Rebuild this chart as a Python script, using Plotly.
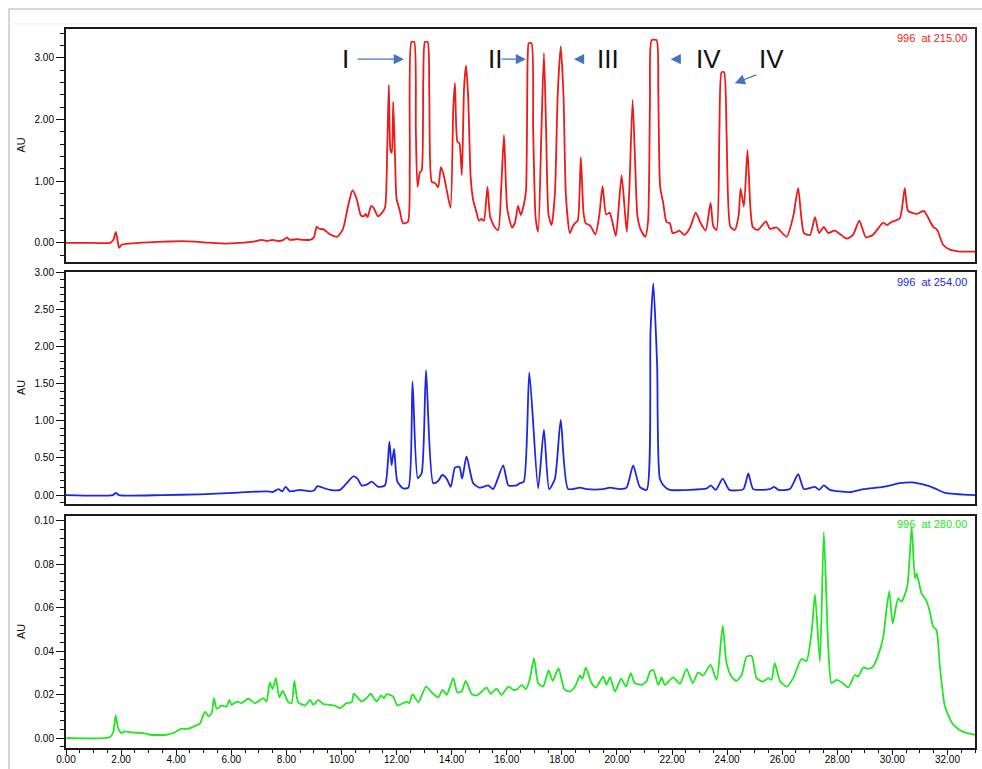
import plotly.graph_objects as go

# ---- Chromatogram data: retention time (min) and absorbance (AU) ----
# Channel 215 nm
rt_215 = [0.00, 1.00, 1.60, 1.72, 1.81, 1.87, 1.93, 2.02, 2.30, 3.00, 3.60, 4.20, 4.70, 5.30, 5.80,
          6.30, 6.80, 7.10, 7.30, 7.50, 7.70, 7.90, 8.02, 8.12, 8.40, 8.60, 8.85, 9.00, 9.10, 9.20,
          9.35, 9.58, 9.84, 10.05, 10.25, 10.40, 10.55, 10.70, 10.80, 10.88, 10.95, 11.08, 11.18,
          11.32, 11.45, 11.58, 11.66, 11.72, 11.78, 11.83, 11.88, 11.95, 12.00, 12.12, 12.23, 12.41,
          12.48, 12.54, 12.64, 12.70, 12.76, 12.85, 12.91, 12.97, 13.03, 13.13, 13.19, 13.28, 13.40,
          13.51, 13.61, 13.70, 13.82, 13.96, 14.06, 14.12, 14.21, 14.28, 14.37, 14.45, 14.52, 14.60,
          14.69, 14.78, 14.90, 14.99, 15.08, 15.17, 15.30, 15.40, 15.57, 15.69, 15.80, 15.90, 16.02,
          16.19, 16.30, 16.41, 16.51, 16.62, 16.70, 16.76, 16.80, 16.90, 16.96, 17.05, 17.14, 17.26,
          17.35, 17.43, 17.52, 17.63, 17.75, 17.85, 17.96, 18.06, 18.15, 18.29, 18.40, 18.50, 18.58,
          18.69, 18.79, 18.87, 19.03, 19.22, 19.36, 19.48, 19.61, 19.73, 19.82, 19.96, 20.06, 20.17,
          20.30, 20.36, 20.45, 20.57, 20.67, 20.75, 20.88, 21.03, 21.13, 21.20, 21.26, 21.44, 21.50,
          21.57, 21.68, 21.80, 21.92, 22.02, 22.14, 22.27, 22.45, 22.66, 22.86, 23.03, 23.22, 23.40,
          23.50, 23.62, 23.72, 23.80, 23.89, 23.98, 24.12, 24.28, 24.42, 24.49, 24.61, 24.74, 24.84,
          24.93, 25.12, 25.41, 25.55, 25.80, 26.16, 26.40, 26.58, 26.79, 27.01, 27.19, 27.34, 27.51,
          27.67, 27.91, 28.34, 28.57, 28.80, 29.04, 29.29, 29.67, 29.80, 29.97, 30.27, 30.45, 30.57,
          30.88, 31.14, 31.48, 31.63, 31.84, 32.09, 32.45, 33.00]
au_215 = [0.00, 0.00, 0.00, 0.05, 0.18, 0.04, -0.08, -0.03, -0.01, 0.01, 0.02, 0.03, 0.02, 0.00, -0.01,
          0.00, 0.02, 0.05, 0.03, 0.05, 0.03, 0.05, 0.09, 0.05, 0.06, 0.05, 0.05, 0.09, 0.26, 0.23,
          0.22, 0.14, 0.10, 0.22, 0.62, 0.85, 0.72, 0.45, 0.43, 0.47, 0.42, 0.60, 0.56,
          0.43, 0.48, 0.57, 1.50, 2.56, 1.50, 1.46, 2.29, 1.30, 0.72, 0.52, 0.32, 0.34,
          1.30, 3.26, 3.26, 1.83, 0.91, 1.15, 1.17, 2.64, 3.26, 3.26, 2.37, 0.99, 0.97,
          0.90, 1.23, 1.12, 0.86, 0.57, 2.20, 2.59, 1.64, 1.62, 1.10, 2.50, 2.88, 2.37,
          1.07, 0.70, 0.50, 0.36, 0.39, 0.36, 0.91, 0.42, 0.25, 0.21, 0.90, 1.75, 0.55,
          0.25, 0.33, 0.60, 0.45, 0.62, 0.85, 3.00, 3.24, 3.24, 1.83, 0.40, 0.18, 1.83,
          3.08, 1.83, 0.45, 0.29, 0.81, 2.40, 3.19, 2.40, 0.75, 0.16, 0.27, 0.33, 0.36,
          1.39, 0.48, 0.32, 0.28, 0.14, 0.45, 0.92, 0.46, 0.49, 0.37, 0.11, 0.55, 1.10,
          0.45, 0.18, 0.85, 2.32, 1.20, 0.42, 0.20, 0.10, 0.35, 2.30, 3.29, 3.29, 2.50,
          0.91, 0.65, 0.34, 0.32, 0.16, 0.17, 0.20, 0.13, 0.25, 0.49, 0.33, 0.20, 0.65,
          0.27, 0.21, 1.80, 2.77, 2.77, 1.80, 0.26, 0.21, 0.45, 0.88, 0.59, 1.51, 0.62,
          0.26, 0.21, 0.35, 0.23, 0.25, 0.10, 0.43, 0.89, 0.16, 0.13, 0.42, 0.16, 0.26,
          0.16, 0.20, 0.07, 0.13, 0.36, 0.09, 0.13, 0.33, 0.29, 0.34, 0.40, 0.89, 0.52,
          0.47, 0.52, 0.26, 0.21, -0.03, -0.11, -0.14, -0.14]

# Channel 254 nm
rt_254 = [0.00, 1.70, 1.81, 1.92, 3.50, 4.86, 6.06, 7.29, 7.50, 7.71, 7.85, 7.97, 8.13, 8.49, 8.86,
          9.00, 9.13, 9.40, 9.58, 9.95, 10.19, 10.43, 10.58, 10.73, 10.91, 11.10, 11.34, 11.58, 11.74,
          11.82, 11.91, 12.03, 12.24, 12.43, 12.58, 12.77, 12.91, 13.07, 13.33, 13.51, 13.66, 13.82,
          13.97, 14.12, 14.28, 14.38, 14.54, 14.78, 15.00, 15.15, 15.33, 15.51, 15.87, 16.06, 16.36,
          16.48, 16.62, 16.82, 17.14, 17.35, 17.54, 17.75, 17.96, 18.23, 18.66, 18.90, 19.50, 19.75,
          20.11, 20.35, 20.59, 20.83, 21.08, 21.22, 21.32, 21.46, 21.56, 21.74, 21.92, 22.65, 23.26,
          23.41, 23.59, 23.84, 24.08, 24.59, 24.77, 24.95, 25.55, 25.71, 25.86, 26.28, 26.58, 26.79,
          27.19, 27.34, 27.51, 27.73, 28.46, 28.94, 29.67, 30.27, 30.70, 31.24, 31.54, 31.91, 33.00]
au_254 = [0.00, 0.00, 0.03, 0.00, 0.00, 0.01, 0.03, 0.05, 0.04, 0.08, 0.05, 0.11, 0.05, 0.07, 0.05,
          0.06, 0.12, 0.09, 0.07, 0.07, 0.16, 0.25, 0.22, 0.13, 0.14, 0.18, 0.11, 0.13, 0.72,
          0.40, 0.62, 0.18, 0.09, 0.10, 1.53, 0.23, 0.29, 1.68, 0.16, 0.19, 0.27, 0.22,
          0.11, 0.37, 0.38, 0.22, 0.52, 0.16, 0.10, 0.11, 0.13, 0.08, 0.40, 0.13, 0.13,
          0.16, 0.18, 1.65, 0.09, 0.88, 0.08, 0.22, 1.01, 0.08, 0.10, 0.08, 0.08, 0.10,
          0.08, 0.10, 0.40, 0.11, 0.07, 2.20, 2.85, 1.75, 0.22, 0.11, 0.07, 0.07, 0.09,
          0.13, 0.07, 0.22, 0.07, 0.08, 0.29, 0.08, 0.08, 0.11, 0.07, 0.08, 0.28, 0.08,
          0.11, 0.07, 0.13, 0.07, 0.04, 0.08, 0.11, 0.16, 0.17, 0.13, 0.09, 0.03, 0.00]

# Channel 280 nm
rt_280 = [0.02, 1.60, 1.72, 1.80, 1.90, 2.02, 2.14, 2.44, 2.81, 3.05, 3.65, 3.89, 4.20, 4.38, 4.74,
          4.86, 5.05, 5.17, 5.29, 5.37, 5.47, 5.65, 5.83, 5.93, 6.01, 6.20, 6.38, 6.62, 6.86, 7.16,
          7.28, 7.40, 7.50, 7.62, 7.74, 7.87, 8.07, 8.19, 8.29, 8.43, 8.68, 8.86, 8.98, 9.16, 9.34,
          9.58, 9.76, 9.95, 10.19, 10.37, 10.45, 10.73, 10.91, 11.06, 11.28, 11.43, 11.54, 11.64,
          11.88, 12.03, 12.37, 12.46, 12.58, 12.79, 13.07, 13.27, 13.51, 13.67, 13.82, 14.06, 14.20,
          14.36, 14.51, 14.73, 14.91, 15.09, 15.27, 15.42, 15.63, 15.81, 16.06, 16.24, 16.38, 16.54,
          16.70, 16.84, 16.99, 17.14, 17.32, 17.52, 17.67, 17.88, 18.09, 18.29, 18.48, 18.66, 18.75,
          18.87, 19.08, 19.24, 19.50, 19.62, 19.75, 19.93, 20.15, 20.33, 20.50, 20.65, 20.90, 21.08,
          21.20, 21.32, 21.50, 21.62, 21.74, 22.04, 22.29, 22.53, 22.75, 22.95, 23.13, 23.40, 23.62,
          23.84, 23.98, 24.16, 24.34, 24.53, 24.71, 24.89, 25.07, 25.31, 25.49, 25.61, 25.73, 25.92,
          26.16, 26.40, 26.70, 26.88, 27.07, 27.19, 27.37, 27.51, 27.67, 27.79, 27.97, 28.16, 28.40,
          28.64, 28.76, 28.94, 29.12, 29.30, 29.55, 29.67, 29.79, 29.89, 30.01, 30.21, 30.33, 30.54,
          30.70, 30.82, 30.88, 31.06, 31.22, 31.36, 31.48, 31.60, 31.72, 31.91, 32.21, 32.57, 33.00]
au_280 = [0.0000, 0.0005, 0.0030, 0.0104, 0.0043, 0.0023, 0.0031, 0.0025, 0.0023, 0.0015, 0.0015,
          0.0023, 0.0043, 0.0041, 0.0058, 0.0066, 0.0122, 0.0100, 0.0115, 0.0184, 0.0135, 0.0149,
          0.0145, 0.0176, 0.0153, 0.0168, 0.0161, 0.0181, 0.0161, 0.0184, 0.0168, 0.0256, 0.0225,
          0.0276, 0.0187, 0.0217, 0.0165, 0.0161, 0.0263, 0.0165, 0.0150, 0.0176, 0.0153, 0.0176,
          0.0156, 0.0153, 0.0149, 0.0138, 0.0161, 0.0164, 0.0204, 0.0168, 0.0184, 0.0204, 0.0168,
          0.0196, 0.0184, 0.0202, 0.0191, 0.0150, 0.0168, 0.0161, 0.0202, 0.0165, 0.0237, 0.0211,
          0.0187, 0.0222, 0.0199, 0.0276, 0.0211, 0.0214, 0.0263, 0.0202, 0.0196, 0.0214, 0.0233,
          0.0204, 0.0227, 0.0199, 0.0237, 0.0222, 0.0225, 0.0245, 0.0225, 0.0273, 0.0368, 0.0253,
          0.0237, 0.0311, 0.0263, 0.0322, 0.0225, 0.0214, 0.0237, 0.0288, 0.0273, 0.0325, 0.0253,
          0.0233, 0.0283, 0.0245, 0.0280, 0.0214, 0.0273, 0.0237, 0.0299, 0.0253, 0.0245, 0.0263,
          0.0306, 0.0314, 0.0245, 0.0279, 0.0245, 0.0279, 0.0250, 0.0319, 0.0253, 0.0302, 0.0288,
          0.0337, 0.0268, 0.0518, 0.0345, 0.0283, 0.0263, 0.0291, 0.0375, 0.0378, 0.0276, 0.0260,
          0.0276, 0.0268, 0.0345, 0.0263, 0.0237, 0.0276, 0.0364, 0.0355, 0.0490, 0.0662, 0.0352,
          0.0949, 0.0429, 0.0253, 0.0268, 0.0257, 0.0233, 0.0291, 0.0283, 0.0325, 0.0319, 0.0329,
          0.0406, 0.0467, 0.0597, 0.0677, 0.0528, 0.0643, 0.0628, 0.0697, 0.0972, 0.0735, 0.0758,
          0.0666, 0.0636, 0.0582, 0.0513, 0.0498, 0.0337, 0.0145, 0.0061, 0.0028, 0.0015]

channel_labels = ["996\u00a0 at\u00a0215.00", "996\u00a0 at\u00a0254.00", "996\u00a0 at\u00a0280.00"]
peak_labels = ["I", "II", "III", "IV", "IV"]
peak_label_rt = [10.16, 15.57, 19.67, 23.34, 25.63]

RED, BLUE, GREEN = "#ee1a1a", "#1e26e6", "#22e622"
ARROW = "#4472c4"
FONT = "Arial, Liberation Sans, sans-serif"

fig = go.Figure()
fig.add_trace(go.Scatter(x=rt_215, y=au_215, mode="lines", xaxis="x", yaxis="y",
                         line=dict(color=RED, width=1.8, shape="spline", smoothing=0.6)))
fig.add_trace(go.Scatter(x=rt_254, y=au_254, mode="lines", xaxis="x2", yaxis="y2",
                         line=dict(color=BLUE, width=1.8, shape="spline", smoothing=0.6)))
fig.add_trace(go.Scatter(x=rt_280, y=au_280, mode="lines", xaxis="x3", yaxis="y3",
                         line=dict(color=GREEN, width=1.8, shape="spline", smoothing=0.6)))

frame = dict(showline=True, mirror=True, linecolor="#1a1a1a", linewidth=2, showgrid=False,
             zeroline=False, automargin=False)
tickfont = dict(family=FONT, size=10, color="#000")

def xax(anchor, labels):
    d = dict(frame, range=[0, 33], anchor=anchor, tickfont=tickfont)
    if labels:
        d.update(tickmode="linear", tick0=0, dtick=2, tickformat=".2f", ticks="outside",
                 ticklen=5, tickwidth=1, tickcolor="#111", ticklabelstandoff=-4,
                 minor=dict(dtick=0.5, tick0=0, ticks="outside", ticklen=3, tickcolor="#111"))
    else:
        d.update(showticklabels=False, ticks="")
    return d

def yax(anchor, domain, rng, dtick, minor, fmt):
    return dict(frame, domain=domain, range=rng, anchor=anchor, tickmode="linear", tick0=0,
                dtick=dtick, tickformat=fmt, ticks="outside", ticklen=8, tickwidth=1,
                tickcolor="#111", tickfont=tickfont,
                minor=dict(dtick=minor, tick0=0, ticks="outside", ticklen=4, tickcolor="#111"))

fig.update_layout(
    width=982, height=769,
    margin=dict(l=66, r=7, t=29, b=21, autoexpand=False),
    paper_bgcolor="white", plot_bgcolor="white",
    showlegend=False,
    xaxis=xax("y", False),
    xaxis2=xax("y2", False),
    xaxis3=xax("y3", True),
    yaxis=yax("x", [0.6759, 1.0], [-0.31, 3.47], 1.0, 0.2, ".2f"),
    yaxis2=yax("x2", [0.3394, 0.6620], [-0.12, 3.002], 0.5, 0.1, ".2f"),
    yaxis3=yax("x3", [0.0, 0.3227], [-0.0046, 0.1023], 0.02, 0.004, ".2f"),
)

# window frame around the report
fig.add_shape(type="rect", xref="paper", yref="paper", x0=-0.0627, x1=1.03, y0=-0.06, y1=1.0278,
              line=dict(color="#d6d6d6", width=2), layer="below")
fig.add_shape(type="line", xref="paper", yref="paper", x0=-0.06, x1=1.03, y0=1.0070, y1=1.0070,
              line=dict(color="#eeeeee", width=1), layer="below")

annotations = []
# y-axis titles
for yc in [0.838, 0.5007, 0.1613]:
    annotations.append(dict(text="AU", xref="paper", yref="paper", x=-0.0495, y=yc,
                            showarrow=False, textangle=-90, xanchor="center", yanchor="middle",
                            font=dict(family=FONT, size=11, color="#111")))
# channel captions
for txt, yt, col in zip(channel_labels, [0.9985, 0.6590, 0.3222], [RED, BLUE, GREEN]):
    annotations.append(dict(text=txt, xref="paper", yref="paper", x=0.9935, y=yt,
                            showarrow=False, xanchor="right", yanchor="top",
                            font=dict(family=FONT, size=11, color=col)))
# peak group labels
for lab, rt in zip(peak_labels, peak_label_rt):
    annotations.append(dict(text=lab, xref="x", yref="y", x=rt, y=2.98, showarrow=False,
                            xanchor="center", yanchor="middle",
                            font=dict(family=FONT, size=26, color="#111")))
# arrows pointing at the labelled peaks: (tip rt, tip AU, tail dx px, tail dy px)
arrow_tips = [(12.27, 2.98, -48, 0), (16.70, 2.98, -26, 0), (18.44, 2.98, 10, 0),
              (21.95, 2.98, 12, 0), (24.28, 2.59, 23, -9)]
for xt, yt, dx, dy in arrow_tips:
    annotations.append(dict(text="", xref="x", yref="y", x=xt, y=yt, ax=dx, ay=dy,
                            axref="pixel", ayref="pixel", showarrow=True, arrowhead=2,
                            arrowsize=1.7, arrowwidth=1.2, arrowcolor=ARROW,
                            standoff=0, startstandoff=0))
fig.update_layout(annotations=annotations)

fig.write_html("out.html")
